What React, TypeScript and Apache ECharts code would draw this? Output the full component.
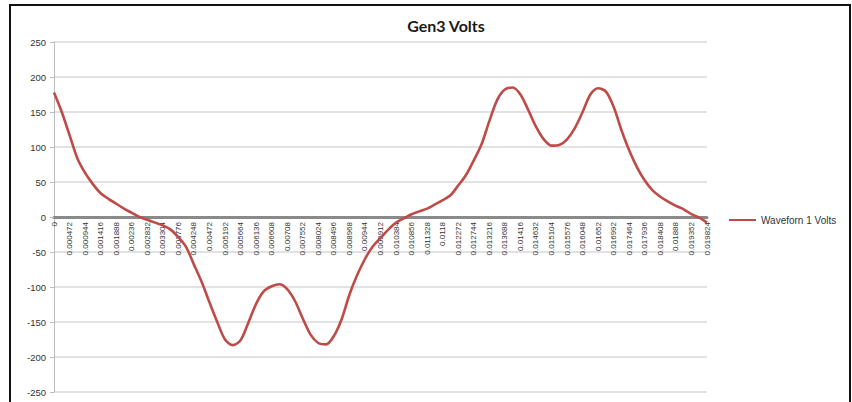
import React, { useEffect, useRef } from "react";
import * as echarts from "echarts";

const timeLabels: string[] = [
  "0", "0.000236", "0.000472", "0.000708", "0.000944", "0.00118", "0.001416", "0.001652", "0.001888", "0.002124",
  "0.00236", "0.002596", "0.002832", "0.003068", "0.003304", "0.00354", "0.003776", "0.004012", "0.004248", "0.004484",
  "0.00472", "0.004956", "0.005192", "0.005428", "0.005664", "0.0059", "0.006136", "0.006372", "0.006608", "0.006844",
  "0.00708", "0.007316", "0.007552", "0.007788", "0.008024", "0.00826", "0.008496", "0.008732", "0.008968", "0.009204",
  "0.00944", "0.009676", "0.009912", "0.010148", "0.010384", "0.01062", "0.010856", "0.011092", "0.011328", "0.011564",
  "0.0118", "0.012036", "0.012272", "0.012508", "0.012744", "0.01298", "0.013216", "0.013452", "0.013688", "0.013924",
  "0.01416", "0.014396", "0.014632", "0.014868", "0.015104", "0.01534", "0.015576", "0.015812", "0.016048", "0.016284",
  "0.01652", "0.016756", "0.016992", "0.017228", "0.017464", "0.0177", "0.017936", "0.018172", "0.018408", "0.018644",
  "0.01888", "0.019116", "0.019352", "0.019588", "0.019824",
];

const volts: number[] = [
  178, 150, 117, 84, 63, 47, 34, 26, 19, 12,
  6, 0, -4, -8, -12, -18, -29, -43, -68, -93,
  -122, -150, -175, -183, -176, -151, -124, -106, -99, -96,
  -103, -120, -145, -168, -180, -182, -170, -146, -111, -83,
  -60, -42, -30, -18, -8, -2, 4, 8, 12, 18,
  24, 31, 45, 60, 81, 104, 137, 167, 182, 185,
  175, 153, 129, 111, 102, 103, 111, 127, 150, 175,
  184, 179, 157, 124, 95, 71, 52, 38, 29, 22,
  16, 11, 4, -1, -8,
];

const seriesName = "Waveforn 1 Volts";
const chartTitle = "Gen3 Volts";

export default function App() {
  const ref = useRef<HTMLDivElement>(null);
  useEffect(() => {
    if (!ref.current) return;
    const chart = echarts.init(ref.current, null, { renderer: "svg" });
    chart.setOption({
      animation: false,
      backgroundColor: "#ffffff",
      textStyle: { fontFamily: "Liberation Sans" },
      title: {
        text: chartTitle,
        left: 441,
        top: 12,
        textAlign: "center",
        textStyle: { fontFamily: "Lato", fontWeight: "bold", fontSize: 16, color: "#1a1a1a" },
      },
      legend: {
        orient: "vertical",
        left: 724,
        top: 210,
        icon: "rect",
        itemWidth: 27,
        itemHeight: 2,
        itemGap: 4,
        textStyle: { fontFamily: "Liberation Sans", fontSize: 10, color: "#333" },
        data: [seriesName],
      },
      graphic: [
        {
          type: "rect",
          shape: { x: 10, y: 5, width: 840, height: 405 },
          style: { fill: "none", stroke: "#111", lineWidth: 2 },
          silent: true,
        },
      ],
      grid: {
        left: 54,
        right: 145,
        top: 42,
        bottom: 10,
        containLabel: false,
        outerBoundsMode: "none",
      },
      xAxis: {
        type: "category",
        data: timeLabels,
        boundaryGap: false,
        position: "bottom",
        offset: -175,
        axisLine: { onZero: false, lineStyle: { color: "#8a8a8a", width: 3 } },
        axisTick: { show: false },
        axisLabel: {
          interval: 1,
          rotate: 90,
          fontSize: 8,
          color: "#333",
          margin: 5,
          fontFamily: "Liberation Sans",
        },
        splitLine: { show: false },
      },
      yAxis: {
        type: "value",
        min: -250,
        max: 250,
        interval: 50,
        axisLine: { show: true, lineStyle: { color: "#bdbdbd", width: 1 } },
        axisTick: { show: true, length: 4, lineStyle: { color: "#bdbdbd" } },
        axisLabel: { fontSize: 9.5, color: "#333", margin: 8 },
        splitLine: { show: true, lineStyle: { color: "#d9d9d9", width: 1.5 } },
      },
      series: [
        {
          name: seriesName,
          type: "line",
          data: volts,
          smooth: 0.3,
          symbol: "none",
          lineStyle: { color: "#BE4B48", width: 2.6 },
          itemStyle: { color: "#BE4B48" },
        },
      ],
    });
    return () => chart.dispose();
  }, []);
  return (
    <div
      ref={ref}
      style={{ position: "fixed", left: 0, top: 0, width: 852, height: 402, background: "#fff" }}
    />
  );
}
